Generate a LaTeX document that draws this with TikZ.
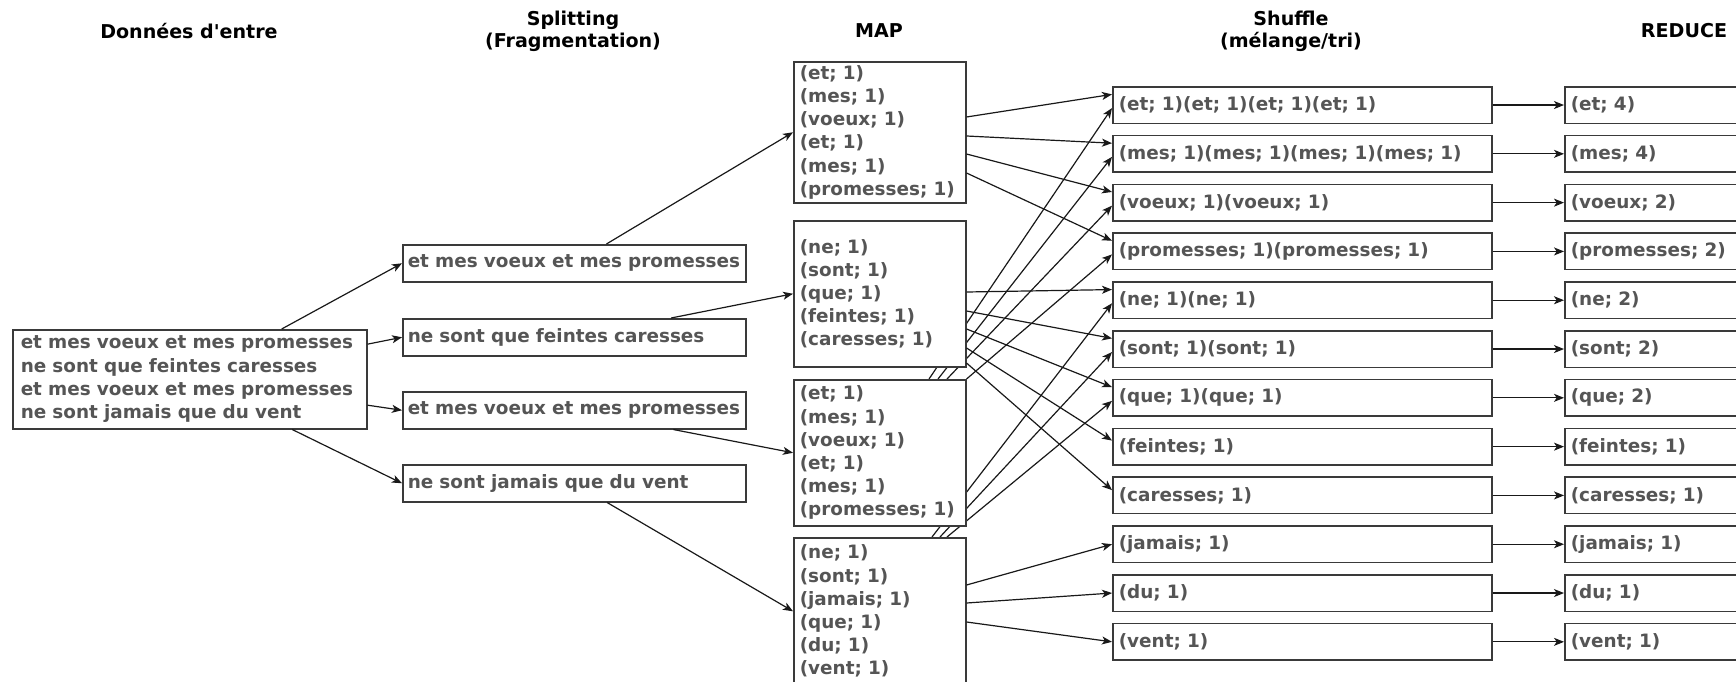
\documentclass[tikz,border=0pt]{standalone}
\usepackage{fontspec}
\setmainfont{DejaVu Sans}[Ligatures=TeXOff]
\usetikzlibrary{arrows.meta,calc,backgrounds}
\definecolor{ink}{HTML}{555555}
\definecolor{edge}{HTML}{3A3A3A}
\begin{document}
\begin{tikzpicture}[x=0.75pt,y=-0.75pt,
  every node/.style={font=\bfseries\fontsize{13.8}{17.4}\selectfont},
  title/.style={font=\bfseries\fontsize{14.3}{16.5}\selectfont, text=black, align=center, inner sep=0pt},
  box/.style={draw=edge, line width=1.15pt, fill=white, text=ink, anchor=north west, align=left},
  inbox/.style={box, text width=253.5pt, inner xsep=6pt, minimum height=74.25pt},
  splitbox/.style={box, text width=249.75pt, inner xsep=3.75pt, inner ysep=0pt, minimum height=27.75pt},
  mapbox/.style={box, text width=120pt, inner xsep=4.5pt, inner ysep=2pt},
  shufbox/.style={box, text width=275.25pt, inner xsep=4.5pt, inner ysep=0pt, minimum height=27.4pt},
  redbox/.style={box, text width=193.5pt, inner xsep=4.5pt, inner ysep=0pt, minimum height=27.4pt},
  conn/.style={draw=black!90, line width=0.9pt, -{Stealth[length=7.5pt,width=6pt,inset=2pt]}}
]
\useasboundingbox (0,0) rectangle (1736,682);
\begin{pgfonlayer}{background}
  \fill[white] (0,0) rectangle (1736,682);
\end{pgfonlayer}
\clip (0,0) rectangle (1736,682);

% column headings
\node[title] (tin)  at (189,31)  {Données d'entre};
\node[title] (tspl) at (573,31)  {Splitting\\(Fragmentation)};
\node[title] (tmap) at (879,31)  {MAP};
\node[title] (tshu) at (1291,31) {Shuffle\\(mélange/tri)};
\node[title] (tred) at (1684,31) {REDUCE};

% input text
\node[inbox, minimum width=265.5pt] (in) at (12,329)
  {et mes voeux et mes promesses\\ne sont que feintes caresses\\et mes voeux et mes promesses\\ne sont jamais que du vent};

% splitting
\node[splitbox] (s1) at (402,244) {\mbox{et mes voeux et mes promesses}};
\node[splitbox] (s2) at (402,318) {\mbox{ne sont que feintes caresses}};
\node[splitbox] (s3) at (402,391) {\mbox{et mes voeux et mes promesses}};
\node[splitbox] (s4) at (402,464) {\mbox{ne sont jamais que du vent}};

% map
\node[mapbox, minimum height=105.75pt] (m1) at (793,61)
  {(et; 1)\\(mes; 1)\\(voeux; 1)\\(et; 1)\\(mes; 1)\\(promesses; 1)};
\node[mapbox, minimum height=109.5pt] (m2) at (793,220)
  {(ne; 1)\\(sont; 1)\\(que; 1)\\(feintes; 1)\\(caresses; 1)};
\node[mapbox, minimum height=109.5pt] (m3) at (793,379)
  {(et; 1)\\(mes; 1)\\(voeux; 1)\\(et; 1)\\(mes; 1)\\(promesses; 1)};
\node[mapbox, minimum height=110.25pt] (m4) at (793,537)
  {(ne; 1)\\(sont; 1)\\(jamais; 1)\\(que; 1)\\(du; 1)\\(vent; 1)};

% shuffle and reduce rows
\foreach \sh/\rd [count=\i] in {
  {(et; 1)(et; 1)(et; 1)(et; 1)}/{(et; 4)},
  {(mes; 1)(mes; 1)(mes; 1)(mes; 1)}/{(mes; 4)},
  {(voeux; 1)(voeux; 1)}/{(voeux; 2)},
  {(promesses; 1)(promesses; 1)}/{(promesses; 2)},
  {(ne; 1)(ne; 1)}/{(ne; 2)},
  {(sont; 1)(sont; 1)}/{(sont; 2)},
  {(que; 1)(que; 1)}/{(que; 2)},
  {(feintes; 1)}/{(feintes; 1)},
  {(caresses; 1)}/{(caresses; 1)},
  {(jamais; 1)}/{(jamais; 1)},
  {(du; 1)}/{(du; 1)},
  {(vent; 1)}/{(vent; 1)}} {
  \node[shufbox] (sh\i) at (1112,{86+48.8*(\i-1)}) {\mbox{\sh}};
  \node[redbox]  (rd\i) at (1564,{86+48.8*(\i-1)}) {\mbox{\rd}};
  \draw[conn] (sh\i) -- (rd\i);
  \coordinate (up\i) at ($(sh\i.north west)!0.22!(sh\i.south west)$);
  \coordinate (lo\i) at ($(sh\i.north west)!0.58!(sh\i.south west)$);
}
\coordinate (up8) at ($(sh8.north west)!0.34!(sh8.south west)$);
\coordinate (up9) at ($(sh9.north west)!0.36!(sh9.south west)$);

% input -> splitting
\foreach \k in {1,...,4} \draw[conn] (in) -- (s\k.west);
% splitting -> map
\foreach \k in {1,...,4} \draw[conn] (s\k) -- (m\k.west);

% map 1 -> shuffle
\draw[conn] ($(m1.north east)+(0,56)$)  -- (up1);
\draw[conn] ($(m1.north east)+(0,75)$)  -- (up2);
\draw[conn] ($(m1.north east)+(0,93)$)  -- (up3);
\draw[conn] ($(m1.north east)+(0,112)$) -- (up4);
% map 2 -> shuffle
\draw[conn] ($(m2.north east)+(0,72)$)  -- (up5);
\draw[conn] ($(m2.north east)+(0,91)$)  -- (up6);
\draw[conn] ($(m2.north east)+(0,109)$) -- (up7);
\draw[conn] ($(m2.north east)+(0,128)$) -- (up8);
\draw[conn] ($(m2.north east)+(0,143)$) -- (up9);
% map 4 -> shuffle (own words)
\draw[conn] ($(m4.north east)+(0,48)$) -- (sh10.west);
\draw[conn] ($(m4.north east)+(0,66)$) -- (sh11.west);
\draw[conn] ($(m4.north east)+(0,85)$) -- (sh12.west);

% connectors that run behind the map boxes
\begin{pgfonlayer}{background}
  \draw[conn] ($(m3.north west)+(136,0)$) -- (lo1);
  \draw[conn] ($(m3.north west)+(145,0)$) -- (lo2);
  \draw[conn] ($(m3.north west)+(154,0)$) -- (lo3);
  \draw[conn] (m3.north east) -- (lo4);
  \draw[conn] ($(m4.north west)+(139,0)$) -- (lo5);
  \draw[conn] ($(m4.north west)+(147,0)$) -- (lo6);
  \draw[conn] ($(m4.north west)+(154,0)$) -- (lo7);
\end{pgfonlayer}
\end{tikzpicture}
\end{document}
